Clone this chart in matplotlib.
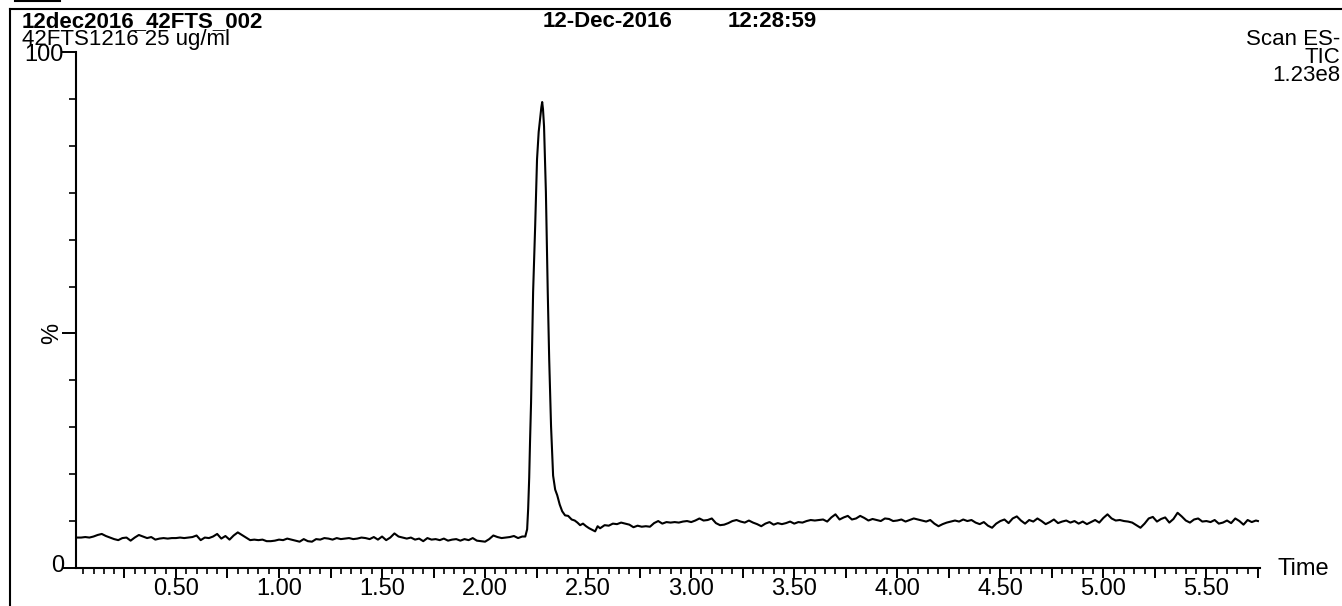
import numpy as np
import matplotlib
matplotlib.use("Agg")
import matplotlib.pyplot as plt
import matplotlib.transforms as mtransforms
from matplotlib.ticker import MultipleLocator, FixedLocator, FuncFormatter, NullFormatter
from matplotlib.lines import Line2D

plt.rcParams['font.family'] = ['Liberation Sans', 'DejaVu Sans']

# header texts
sample_name = "12dec2016_42FTS_002"
sample_desc = "42FTS1216 25 ug/ml"
run_date = "12-Dec-2016"
run_time = "12:28:59"
scan_info = ["Scan ES-", "TIC", "1.23e8"]

# TIC trace: retention time (min) and relative intensity (%)
scan_time = [
    0.02, 0.04, 0.06, 0.08, 0.10, 0.12, 0.14, 0.16, 0.18, 0.20,
    0.22, 0.24, 0.26, 0.28, 0.30, 0.32, 0.34, 0.36, 0.38, 0.40,
    0.42, 0.44, 0.46, 0.48, 0.50, 0.52, 0.54, 0.56, 0.58, 0.60,
    0.62, 0.64, 0.66, 0.68, 0.70, 0.72, 0.74, 0.76, 0.78, 0.80,
    0.82, 0.84, 0.86, 0.88, 0.90, 0.92, 0.94, 0.96, 0.98, 1.00,
    1.02, 1.04, 1.06, 1.08, 1.10, 1.12, 1.14, 1.16, 1.18, 1.20,
    1.22, 1.24, 1.26, 1.28, 1.30, 1.32, 1.34, 1.36, 1.38, 1.40,
    1.42, 1.44, 1.46, 1.48, 1.50, 1.52, 1.54, 1.56, 1.58, 1.60,
    1.62, 1.64, 1.66, 1.68, 1.70, 1.72, 1.74, 1.76, 1.78, 1.80,
    1.82, 1.84, 1.86, 1.88, 1.90, 1.92, 1.94, 1.96, 1.98, 2.00,
    2.02, 2.04, 2.06, 2.08, 2.10, 2.12, 2.14, 2.16, 2.18, 2.195,
    2.204, 2.209, 2.214, 2.218, 2.223, 2.227, 2.233, 2.243, 2.252, 2.260,
    2.267, 2.273, 2.277, 2.281, 2.286, 2.295, 2.304, 2.311, 2.320, 2.330,
    2.340, 2.350, 2.362, 2.374, 2.388, 2.403, 2.42, 2.435, 2.448, 2.461,
    2.475, 2.49, 2.505, 2.52, 2.534, 2.546, 2.558,
    2.58, 2.60, 2.62, 2.64, 2.66, 2.68, 2.70, 2.72, 2.74, 2.76,
    2.78, 2.80, 2.82, 2.84, 2.86, 2.88, 2.90, 2.92, 2.94, 2.96,
    2.98, 3.00, 3.02, 3.04, 3.06, 3.08, 3.10, 3.12, 3.14, 3.16,
    3.18, 3.20, 3.22, 3.24, 3.26, 3.28, 3.30, 3.32, 3.34, 3.36,
    3.38, 3.40, 3.42, 3.44, 3.46, 3.48, 3.50, 3.52, 3.54, 3.56,
    3.58, 3.60, 3.62, 3.64, 3.66, 3.68, 3.70, 3.72, 3.74, 3.76,
    3.78, 3.80, 3.82, 3.84, 3.86, 3.88, 3.90, 3.92, 3.94, 3.96,
    3.98, 4.00, 4.02, 4.04, 4.06, 4.08, 4.10, 4.12, 4.14, 4.16,
    4.18, 4.20, 4.22, 4.24, 4.26, 4.28, 4.30, 4.32, 4.34, 4.36,
    4.38, 4.40, 4.42, 4.44, 4.46, 4.48, 4.50, 4.52, 4.54, 4.56,
    4.58, 4.60, 4.62, 4.64, 4.66, 4.68, 4.70, 4.72, 4.74, 4.76,
    4.78, 4.80, 4.82, 4.84, 4.86, 4.88, 4.90, 4.92, 4.94, 4.96,
    4.98, 5.00, 5.02, 5.04, 5.06, 5.08, 5.10, 5.12, 5.14, 5.16,
    5.18, 5.20, 5.22, 5.24, 5.26, 5.28, 5.30, 5.32, 5.34, 5.36,
    5.38, 5.40, 5.42, 5.44, 5.46, 5.48, 5.50, 5.52, 5.54, 5.56,
    5.58, 5.60, 5.62, 5.64, 5.66, 5.68, 5.70, 5.72, 5.74, 5.75,
]
intensity = [
    5.9, 5.9, 6.0, 5.9, 6.1, 6.4, 6.6, 6.2, 5.9, 5.6,
    5.4, 5.8, 5.9, 5.3, 5.9, 6.4, 6.1, 5.8, 6.0, 5.5,
    5.7, 5.8, 5.7, 5.8, 5.8, 5.9, 5.8, 5.9, 6.0, 6.3,
    5.4, 5.9, 5.8, 6.1, 6.6, 5.7, 6.2, 5.5, 6.3, 6.9,
    6.4, 5.9, 5.4, 5.5, 5.4, 5.5, 5.2, 5.2, 5.3, 5.5,
    5.4, 5.7, 5.5, 5.3, 5.1, 5.6, 5.2, 5.1, 5.6, 5.5,
    5.8, 5.7, 5.5, 5.8, 5.6, 5.7, 5.8, 5.6, 5.7, 5.9,
    5.8, 5.6, 6.0, 5.5, 6.1, 5.4, 5.9, 6.7, 6.1, 5.9,
    5.7, 5.9, 5.5, 5.7, 5.2, 5.8, 5.5, 5.6, 5.4, 5.7,
    5.3, 5.5, 5.6, 5.3, 5.6, 5.4, 5.8, 5.3, 5.2, 5.1,
    5.6, 6.3, 6.0, 5.8, 5.9, 6.0, 6.2, 5.8, 6.1, 6.1,
    7.5, 11.5, 17.5, 24.4, 32.0, 40.5, 53.5, 66.3, 79.2, 84.5,
    87.0, 89.3, 90.3, 88.9, 85.6, 72.9, 53.5, 40.5, 27.5, 17.9,
    15.2, 14.1, 12.3, 11.0, 10.2, 10.1, 9.4, 9.2, 8.8, 8.3,
    8.6, 8.1, 7.7, 7.4, 7.1, 8.1, 7.7,
    8.3, 8.2, 8.6, 8.5, 8.8, 8.6, 8.4, 7.9, 8.2, 8.0,
    8.1, 8.0, 8.7, 9.1, 8.6, 8.9, 8.8, 8.9, 8.8, 9.0,
    9.1, 8.9, 9.2, 9.6, 9.2, 9.3, 9.6, 8.7, 8.3, 8.4,
    8.7, 9.1, 9.3, 9.0, 8.8, 9.2, 8.8, 8.5, 8.1, 8.6,
    8.9, 8.4, 8.7, 8.5, 8.7, 9.0, 8.6, 8.9, 8.8, 9.1,
    9.3, 9.2, 9.3, 9.4, 9.0, 9.8, 10.4, 9.4, 9.8, 10.1,
    9.4, 9.6, 10.1, 9.7, 9.2, 9.5, 9.3, 9.1, 9.6, 9.5,
    9.1, 9.2, 9.4, 9.0, 9.3, 9.6, 9.4, 9.2, 9.0, 9.3,
    8.6, 8.1, 8.5, 8.8, 9.0, 9.2, 9.0, 9.4, 9.1, 9.3,
    8.8, 8.5, 8.9, 8.2, 7.8, 8.6, 9.1, 9.4, 8.7, 9.6,
    10.0, 9.2, 8.6, 9.3, 9.0, 9.6, 9.1, 8.5, 8.9, 9.4,
    8.7, 9.0, 9.2, 8.8, 9.1, 8.6, 9.0, 8.5, 8.9, 9.3,
    8.8, 9.7, 10.4, 9.6, 9.2, 9.3, 9.1, 9.0, 8.8, 8.3,
    7.8, 8.6, 9.6, 9.9, 9.0, 9.5, 9.8, 8.8, 9.5, 10.7,
    10.0, 9.2, 8.8, 9.4, 9.6, 9.0, 9.1, 8.9, 9.3, 8.6,
    8.8, 9.2, 8.7, 9.6, 9.1, 8.4, 9.3, 8.9, 9.2, 9.1,
]

W, H = 1342, 606
fig = plt.figure(figsize=(W / 100, H / 100), dpi=100)
# plot area: x from 76 to 1260 px, y from 52 (100 %) to 568 (0 %)
ax = fig.add_axes([76 / W, 38 / H, 1184 / W, 516 / H])

ax.plot(scan_time, intensity, color='black', lw=1.5)
ax.set_xlim(0.015, 5.76)
ax.set_ylim(0, 100)

for s in ['top', 'right']:
    ax.spines[s].set_visible(False)
for s in ['left', 'bottom']:
    ax.spines[s].set_linewidth(1.5)

# x axis: long ticks every 0.25, labels every 0.5, small ticks every 0.05
ax.xaxis.set_major_locator(MultipleLocator(0.25))
ax.xaxis.set_minor_locator(MultipleLocator(0.05))
ax.xaxis.set_major_formatter(FuncFormatter(
    lambda v, p: f"{v:.2f}" if abs(v * 2 - round(v * 2)) < 1e-6 else ""))
ax.tick_params(axis='x', which='major', direction='out', length=7, width=1.4,
               labelsize=17, pad=0)
ax.tick_params(axis='x', which='minor', direction='out', length=4, width=1.2)

# y axis: 0, % and 100, small ticks between
pct_pos = 500 / 11
ax.yaxis.set_major_locator(FixedLocator([0, pct_pos, 100]))
ax.yaxis.set_major_formatter(NullFormatter())
ax.yaxis.set_minor_locator(FixedLocator([100 * k / 11 for k in range(1, 11)]))
ax.tick_params(axis='y', which='major', direction='out', length=10, width=1.4)
ax.tick_params(axis='y', which='minor', direction='out', length=5, width=1.2)

ytrans = ax.get_yaxis_transform()
lab_x = -12 / 1184
ax.text(lab_x, 100, "100", ha='right', va='center', fontsize=17,
        transform=ytrans + mtransforms.ScaledTranslation(0, -3 / 100, fig.dpi_scale_trans))
ax.text(lab_x, 0, "0", ha='right', va='center', fontsize=17,
        transform=ytrans + mtransforms.ScaledTranslation(0, 2 / 100, fig.dpi_scale_trans))
ax.text(-24 / 1184, pct_pos, "%", transform=ytrans,
        rotation=90, ha='center', va='center', fontsize=17)

fig.text(1278 / W, 1 - 569 / H, "Time", ha='left', va='center', fontsize=17)

# header
fig.text(22 / W, 1 - 27 / H, sample_name, fontsize=16, fontweight='bold', va='baseline')
fig.text(22 / W, 1 - 45 / H, sample_desc, fontsize=16, va='baseline')
fig.text(543 / W, 1 - 27 / H, run_date, fontsize=16, fontweight='bold', va='baseline')
fig.text(728 / W, 1 - 27 / H, run_time, fontsize=16, fontweight='bold', va='baseline')
for i, s in enumerate(scan_info):
    fig.text(1340 / W, 1 - (45 + 18 * i) / H, s, fontsize=16, ha='right', va='baseline')

# page frame
fig.add_artist(Line2D([10 / W, 1.0], [1 - 9 / H, 1 - 9 / H], color='black', lw=1.5))
fig.add_artist(Line2D([10 / W, 10 / W], [1 - 9 / H, 0], color='black', lw=1.5))
fig.add_artist(Line2D([15 / W, 60 / W], [1 - 1 / H, 1 - 1 / H], color='black', lw=1.5))

fig.savefig("out.png", dpi=100)
